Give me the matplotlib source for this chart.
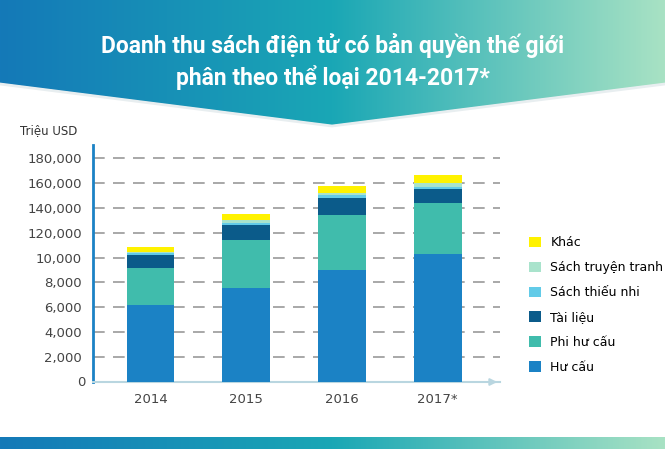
import numpy as np
import matplotlib
matplotlib.use("Agg")
import matplotlib.pyplot as plt
from matplotlib.colors import LinearSegmentedColormap
from matplotlib.patches import Polygon, Rectangle

years = ["2014", "2015", "2016", "2017*"]
series_names = ["Hư cấu", "Phi hư cấu", "Tài liệu", "Sách thiếu nhi", "Sách truyện tranh", "Khác"]
hu_cau = [62000, 75500, 90000, 103000]
phi_hu_cau = [30000, 38500, 44000, 40500]
tai_lieu = [10200, 12100, 13700, 11500]
thieu_nhi = [1200, 2000, 2300, 1500]
truyen_tranh = [1000, 2000, 2000, 3500]
khac = [4500, 5100, 5600, 6500]
series = [hu_cau, phi_hu_cau, tai_lieu, thieu_nhi, truyen_tranh, khac]
colors = ["#1b82c5", "#40bcac", "#0b5b8a", "#62cbe8", "#a9e3cc", "#fff200"]
ytick_vals = [0, 20000, 40000, 60000, 80000, 100000, 120000, 140000, 160000, 180000]
ytick_labels = ["0", "2,000", "4,000", "6,000", "8,000", "10,000", "120,000", "140,000", "160,000", "180,000"]

W, H = 665, 449
fig = plt.figure(figsize=(W/100, H/100), dpi=100)
bg = fig.add_axes([0, 0, 1, 1])
bg.set_xlim(0, W); bg.set_ylim(H, 0); bg.axis("off")
cmap = LinearSegmentedColormap.from_list("g", ["#1479b8", "#1aa7b5", "#a8e2c4"])
grad = np.linspace(0, 1, 256)[None, :]
bg.imshow(grad, cmap=cmap, extent=[0, W, 130, 0], aspect="auto")
bg.add_patch(Polygon([[0, 84], [332, 126], [W, 84], [W, 435], [0, 435]], closed=True, color="white", zorder=2))
bg.plot([0, 332, W], [84, 126, 84], color="#e8eef0", lw=2, zorder=2)
bg.imshow(grad, cmap=cmap, extent=[0, W, 449, 437], aspect="auto")
bg.text(W/2, 45, "Doanh thu sách điện tử có bản quyền thế giới", color="white", fontsize=16.5, fontweight="bold", ha="center", va="center", family="Roboto", zorder=3)
bg.text(W/2, 78, "phân theo thể loại 2014-2017*", color="white", fontsize=16.5, fontweight="bold", ha="center", va="center", family="Roboto", zorder=3)
bg.text(20, 131, "Triệu USD", fontsize=8.5, color="#333333", va="center", zorder=3)

ax = fig.add_axes([93/W, 1-382/H, (500-93)/W, (382-145)/H])
ax.patch.set_alpha(0)
x = np.arange(len(years))
bottom = np.zeros(len(years))
for vals, c, n in zip(series, colors, series_names):
    ax.bar(x, vals, 0.5, bottom=bottom, color=c, label=n, zorder=3)
    bottom += np.array(vals)
ax.set_xlim(-0.6, 3.65)
ax.set_ylim(0, 190500)
ax.set_yticks(ytick_vals[1:])
ax.set_yticklabels(ytick_labels[1:])
for v in ytick_vals[1:]:
    ax.axhline(v, color="#999999", lw=1.2, dashes=(7, 5), zorder=1)
ax.text(-0.68, 0, "0", ha="right", va="center", fontsize=9.5, color="#444444")
ax.set_xticks(x)
ax.set_xticklabels(years)
ax.tick_params(axis="both", length=0, labelsize=9.5, colors="#444444", pad=8)
for s in ["top", "right"]:
    ax.spines[s].set_visible(False)
ax.spines["left"].set_color("#1b82c5"); ax.spines["left"].set_linewidth(2)
ax.spines["bottom"].set_color("#b9d6e0"); ax.spines["bottom"].set_linewidth(1.5)
ax.annotate("", xy=(1.0, 0), xytext=(0.98, 0), xycoords="axes fraction",
            arrowprops=dict(arrowstyle="-|>", color="#b9d6e0", lw=1.5))
h, l = ax.get_legend_handles_labels()
fig.legend(h[::-1], l[::-1], loc="upper left", bbox_to_anchor=(518/W, 1-225/H), frameon=False,
           fontsize=9, handlelength=0.9, handleheight=0.9, labelspacing=0.95)
fig.savefig("out.png", dpi=100)
